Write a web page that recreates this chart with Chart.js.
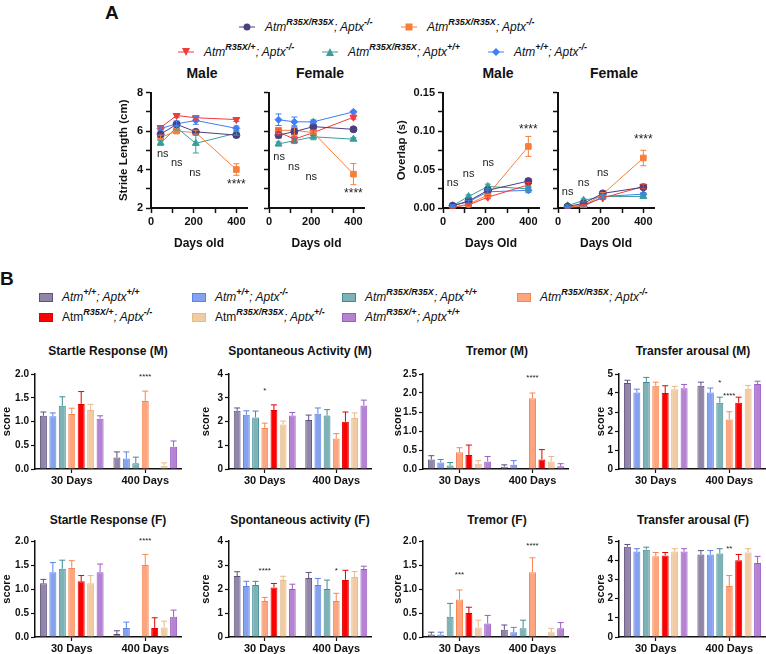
<!DOCTYPE html>
<html><head><meta charset="utf-8">
<script src="https://cdn.jsdelivr.net/npm/chart.js@4.4.1/dist/chart.umd.min.js"></script>
<style>
body{margin:0;width:766px;height:654px;position:relative;overflow:hidden;background:#fff;font-family:'Liberation Sans',Arial,sans-serif;color:#111}
canvas{position:absolute}
.pl{position:absolute;font-weight:bold;font-size:19px;line-height:1;transform:translateY(-50%)}
.ttl{position:absolute;font-weight:bold;white-space:nowrap;transform:translate(-50%,-50%)}
.lg{position:absolute;font-size:12px;font-style:italic;white-space:nowrap;transform:translateY(-50%);display:flex;align-items:center}
.lg sup{font-size:9px;font-weight:bold;position:relative;top:-5px;line-height:1}
.lg svg{margin-right:10px}
.lg .up{font-style:normal}
.sq{display:inline-block;width:14px;height:9px;margin-right:9px;box-sizing:border-box;border:1.5px solid}
</style></head>
<body>
<div class="pl" style="left:105px;top:12px">A</div>
<div class="pl" style="left:0;top:278px">B</div>

<!-- legend A -->
<div class="lg" style="left:239px;top:27px"><svg width="16" height="10"><line x1="0" y1="5" x2="16" y2="5" stroke="#4b3f80"/><circle cx="8" cy="5" r="3.5" fill="#4b3f80"/></svg>Atm<sup>R35X/R35X</sup>; Aptx<sup>-/-</sup></div>
<div class="lg" style="left:401px;top:27px"><svg width="16" height="10"><line x1="0" y1="5" x2="16" y2="5" stroke="#f77f3b"/><rect x="4.5" y="1.5" width="7" height="7" fill="#f77f3b"/></svg>Atm<sup>R35X/R35X</sup>; Aptx<sup>-/-</sup></div>
<div class="lg" style="left:178px;top:52px"><svg width="16" height="10"><line x1="0" y1="5" x2="16" y2="5" stroke="#f23c3c"/><polygon points="4,1 12,1 8,9" fill="#f23c3c"/></svg>Atm<sup>R35X/+</sup>; Aptx<sup>-/-</sup></div>
<div class="lg" style="left:322px;top:52px"><svg width="16" height="10"><line x1="0" y1="5" x2="16" y2="5" stroke="#3a9d9d"/><polygon points="4,9 12,9 8,1" fill="#3a9d9d"/></svg>Atm<sup>R35X/R35X</sup>; Aptx<sup>+/+</sup></div>
<div class="lg" style="left:488px;top:52px"><svg width="16" height="10"><line x1="0" y1="5" x2="16" y2="5" stroke="#3f7ff2"/><polygon points="8,1 12,5 8,9 4,5" fill="#3f7ff2"/></svg>Atm<sup>+/+</sup>; Aptx<sup>-/-</sup></div>

<div class="ttl" style="left:202px;top:73px;font-size:14px">Male</div>
<div class="ttl" style="left:320px;top:73px;font-size:14px">Female</div>
<div class="ttl" style="left:498px;top:73px;font-size:14px">Male</div>
<div class="ttl" style="left:614px;top:73px;font-size:14px">Female</div>

<!-- legend B -->
<div class="lg" style="left:39px;top:297px"><span class="sq" style="background:#9186a8;border-color:#5e4f80"></span>Atm<sup>+/+</sup>; Aptx<sup>+/+</sup></div>
<div class="lg" style="left:192px;top:297px"><span class="sq" style="background:#85a2ef;border-color:#5c82ea"></span>Atm<sup>+/+</sup>; Aptx<sup>-/-</sup></div>
<div class="lg" style="left:342px;top:297px"><span class="sq" style="background:#7db2b6;border-color:#3f8d93"></span>Atm<sup>R35X/R35X</sup>; Aptx<sup>+/+</sup></div>
<div class="lg" style="left:517px;top:297px"><span class="sq" style="background:#fda57f;border-color:#f8864e"></span>Atm<sup>R35X/R35X</sup>; Aptx<sup>-/-</sup></div>
<div class="lg" style="left:39px;top:317px"><span class="sq" style="background:#ff0000;border-color:#e00000"></span><span class="up">Atm</span><sup>R35X/+</sup>; Aptx<sup>-/-</sup></div>
<div class="lg" style="left:192px;top:317px"><span class="sq" style="background:#f1cba3;border-color:#e8b98a"></span><span class="up">Atm</span><sup>R35X/R35X</sup>; Aptx<sup>+/-</sup></div>
<div class="lg" style="left:342px;top:317px"><span class="sq" style="background:#b583d2;border-color:#9a5bc6"></span>Atm<sup>R35X/+</sup>; Aptx<sup>+/+</sup></div>

<div class="ttl" style="left:108px;top:351px;font-size:12px">Startle Response (M)</div>
<div class="ttl" style="left:300px;top:351px;font-size:12px">Spontaneous Activity (M)</div>
<div class="ttl" style="left:497px;top:351px;font-size:12px">Tremor (M)</div>
<div class="ttl" style="left:693px;top:351px;font-size:12px">Transfer arousal (M)</div>
<div class="ttl" style="left:108px;top:520px;font-size:12px">Startle Response (F)</div>
<div class="ttl" style="left:300px;top:520px;font-size:12px">Spontaneous activity (F)</div>
<div class="ttl" style="left:497px;top:520px;font-size:12px">Tremor (F)</div>
<div class="ttl" style="left:693px;top:520px;font-size:12px">Transfer arousal (F)</div>

<script>
// ---- panel A data (series: purple circle, orange square, red down-tri, teal tri, blue diamond)
const lineDays=[45,120,210,400];
const strideMale=[[5.84,6.35,5.96,5.79],[5.67,6.0,5.92,4.0],[6.18,6.81,6.69,6.6],[5.38,6.18,5.36,5.89],[6.13,6.38,6.55,6.14]];
const strideMaleErr=[[0.1,0.12,0.1,0.1],[0.12,0.1,0.12,0.3],[0.08,0.1,0.1,0.1],[0.12,0.12,0.5,0.1],[0.08,0.15,0.2,0.12]];
const strideFemale=[[5.79,5.97,6.23,6.09],[6.04,6.04,5.92,3.76],[5.95,5.58,5.92,6.72],[5.33,5.5,5.7,5.58],[6.59,6.48,6.48,7.0]];
const strideFemaleErr=[[0.15,0.15,0.1,0.1],[0.15,0.25,0.1,0.55],[0.15,0.15,0.15,0.1],[0.1,0.15,0.15,0.08],[0.3,0.25,0.1,0.05]];
const overlapMale=[[0.003,0.009,0.023,0.035],[0.001,0.005,0.017,0.080],[0.001,0.004,0.014,0.030],[0.003,0.015,0.028,0.025],[0.003,0.008,0.021,0.023]];
const overlapMaleErr=[[0.001,0.002,0.003,0.003],[0.001,0.001,0.002,0.013],[0.001,0.001,0.002,0.003],[0.001,0.002,0.003,0.003],[0.001,0.002,0.002,0.003]];
const overlapFemale=[[0.002,0.006,0.019,0.027],[0.001,0.003,0.018,0.065],[0.001,0.004,0.013,0.028],[0.003,0.010,0.015,0.015],[0.001,0.002,0.015,0.018]];
const overlapFemaleErr=[[0.001,0.002,0.002,0.003],[0.001,0.001,0.002,0.01],[0.001,0.001,0.002,0.003],[0.001,0.002,0.002,0.002],[0.001,0.001,0.002,0.002]];
const strideMaleNotes=[[55,4.8,'ns'],[121,4.35,'ns'],[206,3.8,'ns'],[400,3.2,'****']];
const strideFemaleNotes=[[48,4.64,'ns'],[118,4.13,'ns'],[200,3.59,'ns'],[400,2.72,'****']];
const overlapMaleNotes=[[45,0.032,'ns'],[120,0.044,'ns'],[212,0.058,'ns'],[400,0.102,'****']];
const overlapFemaleNotes=[[45,0.021,'ns'],[120,0.033,'ns'],[210,0.046,'ns'],[400,0.089,'****']];

// ---- panel B data: [30 Days values, 400 Days values] for 7 genotypes
const groups=['30 Days','400 Days'];
const startleM=[[1.12,1.11,1.33,1.16,1.37,1.24,1.06],[0.24,0.22,0.12,1.43,0,0.07,0.47]];
const startleMErr=[[0.08,0.07,0.19,0.12,0.26,0.12,0.06],[0.12,0.14,0.13,0.21,0,0.06,0.12]];
const spontM=[[2.45,2.28,2.17,1.73,2.48,1.87,2.25],[2.06,2.33,2.25,1.28,1.99,2.15,2.67]];
const spontMErr=[[0.12,0.17,0.27,0.2,0.22,0.15,0.13],[0.21,0.24,0.25,0.21,0.41,0.21,0.23]];
const tremorM=[[0.25,0.17,0.09,0.44,0.37,0.14,0.2],[0.06,0.11,0,1.86,0.25,0.2,0.07]];
const tremorMErr=[[0.1,0.08,0.08,0.12,0.26,0.08,0.13],[0.05,0.11,0,0.14,0.26,0.13,0.07]];
const transferM=[[4.52,4.02,4.58,4.38,4.0,4.2,4.25],[4.38,4.02,3.49,2.6,3.49,4.22,4.48]];
const transferMErr=[[0.15,0.18,0.24,0.19,0.38,0.15,0.2],[0.19,0.24,0.29,0.41,0.29,0.18,0.14]];
const startleF=[[1.12,1.35,1.42,1.44,1.16,1.12,1.35],[0.06,0.19,0,1.5,0.19,0.2,0.42]];
const startleFErr=[[0.08,0.2,0.18,0.15,0.12,0.16,0.17],[0.07,0.12,0,0.22,0.21,0.13,0.14]];
const spontF=[[2.54,2.12,2.17,1.5,2.06,2.37,2.0],[2.46,2.17,2.0,1.5,2.38,2.5,2.83]];
const spontFErr=[[0.18,0.2,0.15,0.15,0.17,0.16,0.2],[0.23,0.27,0.37,0.32,0.4,0.23,0.12]];
const tremorF=[[0.05,0.05,0.42,0.78,0.5,0.2,0.28],[0.15,0.1,0.18,1.35,0,0.1,0.18]];
const tremorFErr=[[0.05,0.05,0.28,0.2,0.12,0.15,0.17],[0.1,0.1,0.17,0.3,0,0.08,0.12]];
const transferF=[[4.7,4.45,4.55,4.2,4.25,4.45,4.45],[4.3,4.3,4.35,2.65,4.0,4.4,3.85]];
const transferFErr=[[0.12,0.15,0.13,0.2,0.15,0.15,0.15],[0.2,0.2,0.25,0.55,0.3,0.2,0.35]];
// [group, genotype, y, text]
const startleMStars=[[1,3,1.95,'****']];
const spontMStars=[[0,3,3.3,'*']];
const tremorMStars=[[1,3,2.4,'****']];
const transferMStars=[[1,2,4.55,'*'],[1,3,3.85,'****']];
const startleFStars=[[1,3,2.0,'****']];
const spontFStars=[[0,3,2.76,'****'],[1,3,2.76,'*']];
const tremorFStars=[[0,3,1.3,'***'],[1,3,1.9,'****']];
const transferFStars=[[1,3,4.6,'**']];

const lineStyle=[
  {c:'#4b3f80',p:'circle',s:3.5},{c:'#f77f3b',p:'rect',s:4},{c:'#f23c3c',p:'triangle',r:180,s:4},
  {c:'#3a9d9d',p:'triangle',s:4},{c:'#3f7ff2',p:'rectRot',s:3.5}];
const barFill=['#9186a8','#85a2ef','#7db2b6','#fda57f','#ff0000','#f1cba3','#b583d2'];
const barEdge=['#5e4f80','#5c82ea','#3f8d93','#f8864e','#e00000','#e8b98a','#9a5bc6'];
const INK='#111';

Chart.defaults.font.family="'Liberation Sans', Arial, sans-serif";
Chart.defaults.color=INK;

const marks={
  id:'marks',
  afterDatasetsDraw(chart){
    const {ctx}=chart, ys=chart.scales.y, cv=chart.canvas;
    ctx.save();
    chart.data.datasets.forEach((ds,i)=>{
      if(!ds.err) return;
      const meta=chart.getDatasetMeta(i);
      ctx.strokeStyle=ds.borderColor; ctx.lineWidth=1;
      meta.data.forEach((el,j)=>{
        const raw=ds.data[j], v=typeof raw==='object'?raw.y:raw, e=ds.err[j];
        if(!v||!e) return;
        const hi=ys.getPixelForValue(v+e), lo=cv._bars?el.y:ys.getPixelForValue(v-e), w=3;
        ctx.beginPath();
        ctx.moveTo(el.x,lo);ctx.lineTo(el.x,hi);
        ctx.moveTo(el.x-w,hi);ctx.lineTo(el.x+w,hi);
        if(!cv._bars){ctx.moveTo(el.x-w,lo);ctx.lineTo(el.x+w,lo);}
        ctx.stroke();
      });
    });
    ctx.fillStyle='#222';ctx.textAlign='center';ctx.textBaseline='middle';
    (cv._notes||[]).forEach(n=>{
      if(cv._bars){
        const el=chart.getDatasetMeta(n[1]).data[n[0]];
        ctx.font="8px 'Liberation Sans', Arial";
        ctx.fillText(n[3],el.x,ys.getPixelForValue(n[2]));
      } else {
        ctx.font=(n[2]==='ns'?'11px':'12px')+" 'Liberation Sans', Arial";
        ctx.fillText(n[2],chart.scales.x.getPixelForValue(n[0]),ys.getPixelForValue(n[1]));
      }
    });
    ctx.restore();
  }
};

function place(ax,top,bot,right,yW,xH){
  const c=document.createElement('canvas'), left=ax-yW, t=top-8;
  c.width=right-left; c.height=bot+xH-t;
  c.style.left=left+'px'; c.style.top=t+'px';
  document.body.appendChild(c);
  return c;
}

function lineChart(c,vals,errs,notes,y,yTitle,showY){
  c._notes=notes;
  const sets=lineStyle.map((st,i)=>({
    data:lineDays.map((d,j)=>({x:d,y:vals[i][j]})),err:errs[i],
    borderColor:st.c,backgroundColor:st.c,pointStyle:st.p,pointRotation:st.r||0,
    pointRadius:st.s,borderWidth:1,tension:0}));
  const axisGrid={drawOnChartArea:false,color:INK,tickColor:INK,tickLength:5,tickWidth:1.5};
  new Chart(c,{type:'line',data:{datasets:sets},plugins:[marks],options:{
    animation:false,responsive:false,
    layout:{padding:{top:8,left:0,right:0,bottom:0}},
    plugins:{legend:{display:false},tooltip:{enabled:false}},
    scales:{
      x:{type:'linear',min:0,max:450,
        afterBuildTicks:s=>{s.ticks=[0,100,200,300,400].map(v=>({value:v}));},
        ticks:{callback:v=>v%200===0?v:'',font:{size:11,weight:'bold'},color:INK,padding:2,maxRotation:0,autoSkip:false},
        grid:axisGrid,border:{color:INK,width:2},
        title:{display:true,text:'Days '+(y.max>1?'old':'Old'),font:{size:12,weight:'bold'},padding:0,color:INK},
        afterFit:s=>{s.height=43;}},
      y:{min:y.min,max:y.max,
        ticks:{stepSize:y.step,autoSkip:false,callback:v=>showY&&y.lab(v)?y.fmt(v):'',font:{size:11,weight:'bold'},color:INK,padding:3},
        grid:axisGrid,border:{color:INK,width:2},
        title:{display:!!yTitle,text:yTitle,font:{size:11.5,weight:'bold'},padding:0,color:INK},
        afterFit:s=>{s.width=showY?(y.max>1?34:48):8;}}
    }}});
}

function barChart(c,vals,errs,stars,max,step,dec,yW){
  c._bars=true; c._notes=stars;
  const sets=barFill.map((f,i)=>({
    data:[vals[0][i],vals[1][i]],err:[errs[0][i],errs[1][i]],
    backgroundColor:f,borderColor:barEdge[i],borderWidth:1,categoryPercentage:0.9,barPercentage:0.74}));
  const axisGrid={drawOnChartArea:false,color:INK,tickColor:INK,tickLength:4,tickWidth:1.2};
  new Chart(c,{type:'bar',data:{labels:groups,datasets:sets},plugins:[marks],options:{
    animation:false,responsive:false,
    layout:{padding:{top:8,left:0,right:0,bottom:0}},
    plugins:{legend:{display:false},tooltip:{enabled:false}},
    scales:{
      x:{grid:{...axisGrid,offset:false},border:{color:INK,width:1.5},
        ticks:{font:{size:11,weight:'bold'},color:INK,padding:1},afterFit:s=>{s.height=22;}},
      y:{min:0,max,ticks:{stepSize:step,autoSkip:false,callback:v=>v.toFixed(dec),font:{size:10,weight:'bold'},color:INK,padding:2},
        grid:axisGrid,border:{color:INK,width:1.5},
        title:{display:true,text:'score',font:{size:11,weight:'bold'},padding:0,color:INK},
        afterFit:s=>{s.width=yW;}}
    }}});
}

const strideY={min:2,max:8,step:1,lab:v=>v%2===0,fmt:v=>v};
const overlapY={min:0,max:0.15,step:0.025,lab:v=>Math.abs(v*20-Math.round(v*20))<1e-6,fmt:v=>v.toFixed(2)};

lineChart(place(151,91,208,252,34,43),strideMale,strideMaleErr,strideMaleNotes,strideY,'Stride Length (cm)',true);
lineChart(place(269,91,208,369,8,43),strideFemale,strideFemaleErr,strideFemaleNotes,strideY,'',false);
lineChart(place(443,91,208,544,48,43),overlapMale,overlapMaleErr,overlapMaleNotes,overlapY,'Overlap (s)',true);
lineChart(place(558,91,208,659,8,43),overlapFemale,overlapFemaleErr,overlapFemaleNotes,overlapY,'',false);

barChart(place(35,374,469,182,35,22),startleM,startleMErr,startleMStars,2,0.5,1,35);
barChart(place(229,374,469,372,30,22),spontM,spontMErr,spontMStars,4,1,0,30);
barChart(place(423,374,469,569,32,22),tremorM,tremorMErr,tremorMStars,2.5,0.5,1,32);
barChart(place(619,374,469,766,25,22),transferM,transferMErr,transferMStars,5,1,0,25);
barChart(place(35,541,637,182,35,22),startleF,startleFErr,startleFStars,2,0.5,1,35);
barChart(place(229,541,637,372,30,22),spontF,spontFErr,spontFStars,4,1,0,30);
barChart(place(423,541,637,569,32,22),tremorF,tremorFErr,tremorFStars,2,0.5,1,32);
barChart(place(619,541,637,766,25,22),transferF,transferFErr,transferFStars,5,1,0,25);
</script>
</body></html>
